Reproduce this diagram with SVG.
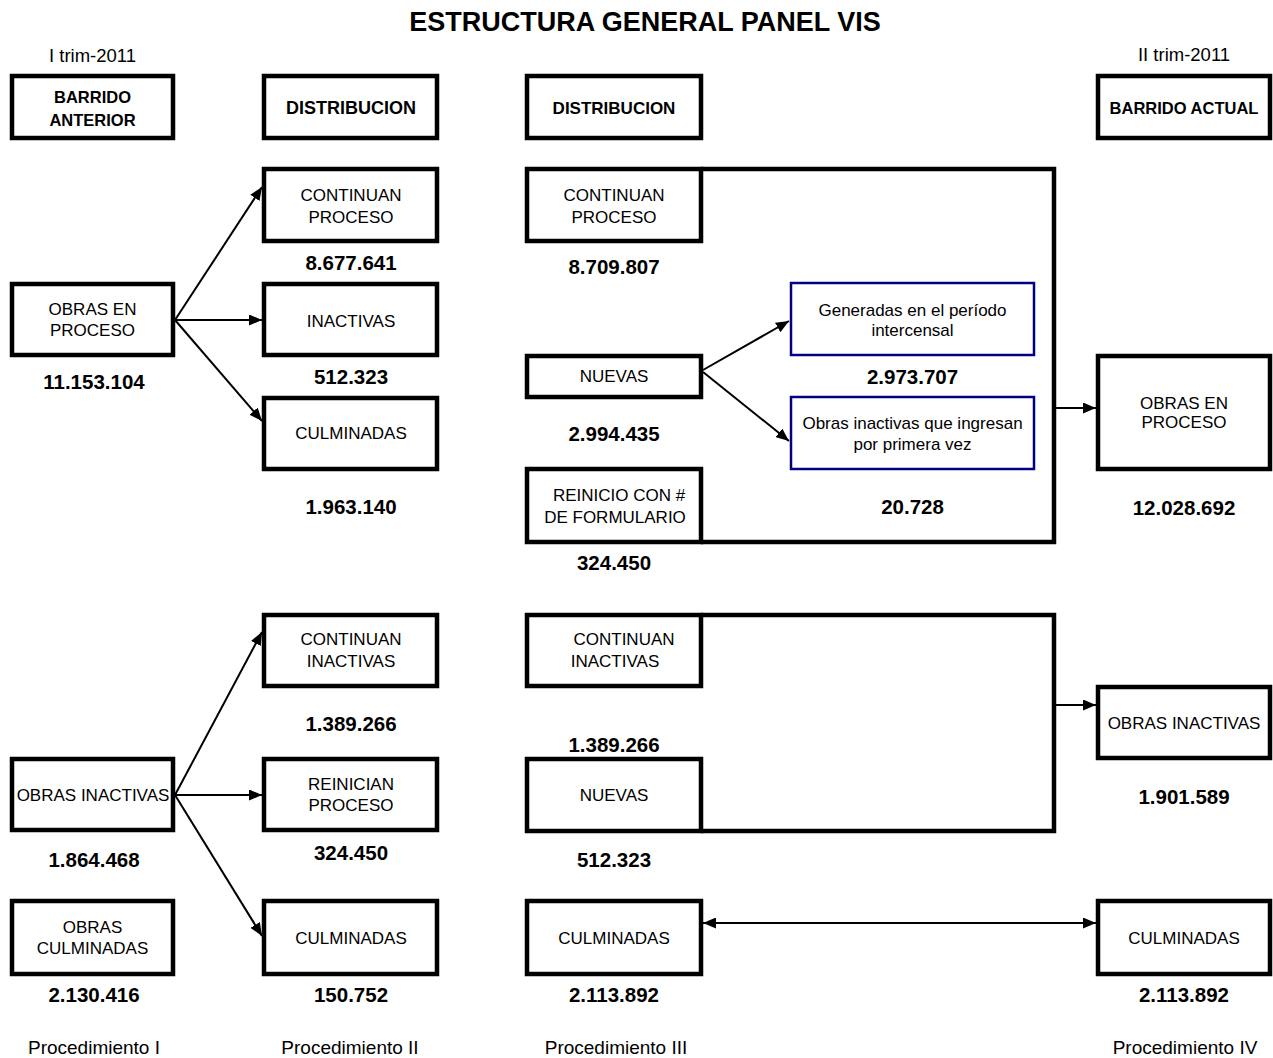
<svg xmlns="http://www.w3.org/2000/svg" width="1273" height="1058" viewBox="0 0 1273 1058">
<defs>
<style>
.b{fill:#fff;stroke:#000;stroke-width:4.5}
.bl{fill:#fff;stroke:#000080;stroke-width:2.5}
.big{fill:none;stroke:#000;stroke-width:4.5}
.t{font-family:"Liberation Sans",Arial,sans-serif;font-size:17px;text-anchor:middle;fill:#000}
.h{font-family:"Liberation Sans",Arial,sans-serif;font-size:16.5px;font-weight:bold;text-anchor:middle;fill:#000}
.n{font-family:"Liberation Sans",Arial,sans-serif;font-size:20.5px;font-weight:bold;text-anchor:middle;fill:#000}
.l{font-family:"Liberation Sans",Arial,sans-serif;font-size:19px;text-anchor:middle;fill:#000}
.c{fill:none;stroke:#000;stroke-width:2;marker-end:url(#ah)}
</style>
<marker id="ah" viewBox="0 0 13 11" markerUnits="userSpaceOnUse" markerWidth="13" markerHeight="11" refX="13" refY="5.5" orient="auto-start-reverse">
<path d="M0,0 L13,5.5 L0,11 z" fill="#000"/>
</marker>
</defs>
<rect width="1273" height="1058" fill="#fff"/>
<text x="645" y="31" style="font-family:'Liberation Sans',Arial,sans-serif;font-size:27px;font-weight:bold;text-anchor:middle">ESTRUCTURA GENERAL PANEL VIS</text>
<text class="l" x="92.5" y="62" style="font-size:18.5px">I trim-2011</text>
<text class="l" x="1184" y="61" style="font-size:18.5px">II trim-2011</text>

<g id="frames">
<path class="big" d="M701,169 H1054 V542 H701"/>
<path class="big" d="M701,615 H1054 V831 H701"/>
</g>

<g id="connectors">
<line class="c" x1="175" y1="320" x2="262" y2="187"/>
<line class="c" x1="175" y1="320" x2="262" y2="320"/>
<line class="c" x1="175" y1="320" x2="262" y2="421"/>
<line class="c" x1="703" y1="370" x2="789" y2="321"/>
<line class="c" x1="703" y1="372" x2="789" y2="441"/>
<line class="c" x1="1056" y1="408" x2="1096" y2="408"/>
<line class="c" x1="175" y1="795" x2="262" y2="632"/>
<line class="c" x1="175" y1="795" x2="262" y2="795"/>
<line class="c" x1="175" y1="795" x2="262" y2="936"/>
<line class="c" x1="1056" y1="705" x2="1096" y2="705"/>
<line class="c" x1="703" y1="923" x2="1096" y2="923" style="marker-start:url(#ah)"/>
</g>

<g id="barrido-anterior"><rect class="b" x="12" y="76" width="161" height="62"/><text class="h" x="92.5" y="103">BARRIDO</text><text class="h" x="92.5" y="126">ANTERIOR</text></g>
<g id="distribucion-2"><rect class="b" x="264" y="76" width="173" height="62"/><text class="h" x="351" y="114" style="font-size:18px">DISTRIBUCION</text></g>
<g id="distribucion-3"><rect class="b" x="527" y="76" width="174" height="62"/><text class="h" x="614" y="114" style="font-size:17px">DISTRIBUCION</text></g>
<g id="barrido-actual"><rect class="b" x="1098" y="76" width="172" height="62"/><text class="h" x="1184" y="114">BARRIDO ACTUAL</text></g>

<g id="obras-proceso-1"><rect class="b" x="12" y="284" width="161" height="71"/><text class="t" x="92.5" y="315">OBRAS EN</text><text class="t" x="92.5" y="336">PROCESO</text><text class="n" x="94" y="389">11.153.104</text></g>
<g id="continuan-proceso-2"><rect class="b" x="264" y="169" width="173" height="72"/><text class="t" x="351" y="201">CONTINUAN</text><text class="t" x="351" y="223">PROCESO</text><text class="n" x="351" y="270">8.677.641</text></g>
<g id="inactivas-2"><rect class="b" x="264" y="284" width="173" height="71"/><text class="t" x="351" y="327">INACTIVAS</text><text class="n" x="351" y="384">512.323</text></g>
<g id="culminadas-2a"><rect class="b" x="264" y="398" width="173" height="71"/><text class="t" x="351" y="439">CULMINADAS</text><text class="n" x="351" y="514">1.963.140</text></g>

<g id="continuan-proceso-3"><rect class="b" x="527" y="169" width="174" height="72"/><text class="t" x="614" y="201">CONTINUAN</text><text class="t" x="614" y="223">PROCESO</text><text class="n" x="614" y="274">8.709.807</text></g>
<g id="nuevas-3"><rect class="b" x="527" y="356" width="174" height="41"/><text class="t" x="614" y="382">NUEVAS</text><text class="n" x="614" y="441">2.994.435</text></g>
<g id="reinicio-3"><rect class="b" x="527" y="469" width="174" height="73"/><text class="t" x="619" y="501">REINICIO CON #</text><text class="t" x="615" y="523">DE FORMULARIO</text><text class="n" x="614" y="570">324.450</text></g>
<g id="generadas"><rect class="bl" x="791" y="283" width="243" height="72"/><text class="t" x="912.5" y="316">Generadas en el período</text><text class="t" x="912.5" y="336">intercensal</text><text class="n" x="912.5" y="384">2.973.707</text></g>
<g id="inactivas-ingresan"><rect class="bl" x="791" y="397" width="243" height="72"/><text class="t" x="912.5" y="429">Obras inactivas que ingresan</text><text class="t" x="912.5" y="450">por primera vez</text><text class="n" x="912.5" y="514">20.728</text></g>
<g id="obras-proceso-4"><rect class="b" x="1098" y="356" width="172" height="113"/><text class="t" x="1184" y="409">OBRAS EN</text><text class="t" x="1184" y="428">PROCESO</text><text class="n" x="1184" y="515">12.028.692</text></g>

<g id="obras-inactivas-1"><rect class="b" x="12" y="759" width="161" height="71"/><text class="t" x="93" y="801">OBRAS INACTIVAS</text><text class="n" x="94" y="867">1.864.468</text></g>
<g id="obras-culminadas-1"><rect class="b" x="12" y="901" width="161" height="73"/><text class="t" x="92.5" y="933">OBRAS</text><text class="t" x="92.5" y="954">CULMINADAS</text><text class="n" x="94" y="1002">2.130.416</text></g>
<g id="continuan-inactivas-2"><rect class="b" x="264" y="615" width="173" height="71"/><text class="t" x="351" y="645">CONTINUAN</text><text class="t" x="351" y="667">INACTIVAS</text><text class="n" x="351" y="731">1.389.266</text></g>
<g id="reinician-2"><rect class="b" x="264" y="759" width="173" height="71"/><text class="t" x="351" y="790">REINICIAN</text><text class="t" x="351" y="811">PROCESO</text><text class="n" x="351" y="860">324.450</text></g>
<g id="culminadas-2b"><rect class="b" x="264" y="901" width="173" height="73"/><text class="t" x="351" y="944">CULMINADAS</text><text class="n" x="351" y="1002">150.752</text></g>

<g id="continuan-inactivas-3"><rect class="b" x="527" y="615" width="174" height="71"/><text class="t" x="624" y="645">CONTINUAN</text><text class="t" x="615" y="667">INACTIVAS</text><text class="n" x="614" y="752">1.389.266</text></g>
<g id="nuevas-3b"><rect class="b" x="527" y="759" width="174" height="72"/><text class="t" x="614" y="801">NUEVAS</text><text class="n" x="614" y="867">512.323</text></g>
<g id="culminadas-3"><rect class="b" x="527" y="901" width="174" height="73"/><text class="t" x="614" y="944">CULMINADAS</text><text class="n" x="614" y="1002">2.113.892</text></g>
<g id="obras-inactivas-4"><rect class="b" x="1098" y="687" width="172" height="71"/><text class="t" x="1184" y="729">OBRAS INACTIVAS</text><text class="n" x="1184" y="804">1.901.589</text></g>
<g id="culminadas-4"><rect class="b" x="1098" y="901" width="172" height="73"/><text class="t" x="1184" y="944">CULMINADAS</text><text class="n" x="1184" y="1002">2.113.892</text></g>

<text class="l" x="94" y="1054">Procedimiento I</text>
<text class="l" x="350" y="1054">Procedimiento II</text>
<text class="l" x="616" y="1054">Procedimiento III</text>
<text class="l" x="1185" y="1054">Procedimiento IV</text>
</svg>
